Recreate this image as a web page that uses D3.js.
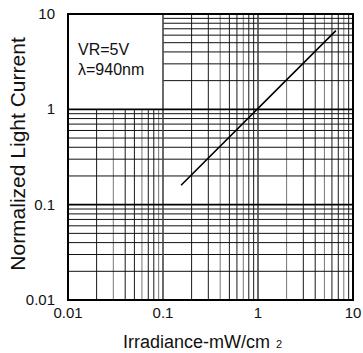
<!DOCTYPE html>
<html lang="en">
<head>
    <meta charset="UTF-8">
    <title>Normalized Light Current vs Irradiance</title>
    <script src="https://d3js.org/d3.v7.min.js"></script>
    <style>
        body {
            margin: 0;
            padding: 0;
            background-color: white;
        }
        svg text {
            font-family: "Liberation Sans", Arial, sans-serif;
            fill: #111;
        }
    </style>
</head>
<body>
    <div id="chart"></div>
    <script>
        // chart values
        const xTicks = [0.01, 0.1, 1, 10];
        const yTicks = [0.01, 0.1, 1, 10];
        const tickLabels = ["0.01", "0.1", "1", "10"];
        const curveX = [0.155, 6.6];
        const curveY = [0.16, 6.7];
        const notes = ["VR=5V", "\u03bb=940nm"];

        const width = 363, height = 353;
        const margin = {left: 68, right: 10, top: 14, bottom: 53};

        const svg = d3.select("#chart")
            .append("svg")
            .attr("width", width)
            .attr("height", height);

        const x = d3.scaleLog()
            .domain([0.01, 10])
            .range([margin.left, width - margin.right]);
        const y = d3.scaleLog()
            .domain([0.01, 10])
            .range([height - margin.bottom, margin.top]);

        // minor values inside every decade
        const minors = [];
        [0.01, 0.1, 1].forEach(d => {
            for (let k = 2; k <= 9; k++) minors.push(d * k);
        });

        const grid = svg.append("g");

        // vertical minor lines, cut short under the note box in the top-left decade
        grid.selectAll("line.vmin")
            .data(minors)
            .join("line")
            .attr("x1", d => x(d))
            .attr("x2", d => x(d))
            .attr("y1", d => d < 0.1 ? y(1) : y(10))
            .attr("y2", y(0.01))
            .attr("stroke", (d, i) => i % 3 === 1 ? "#777" : "#1a1a1a")
            .attr("stroke-width", 1);

        // horizontal minor lines
        grid.selectAll("line.hmin")
            .data(minors)
            .join("line")
            .attr("y1", d => y(d))
            .attr("y2", d => y(d))
            .attr("x1", d => d > 1 ? x(0.1) : x(0.01))
            .attr("x2", x(10))
            .attr("stroke", "#111")
            .attr("stroke-width", 1);

        // decade lines
        grid.selectAll("line.vmaj")
            .data(xTicks.slice(1, -1))
            .join("line")
            .attr("x1", d => x(d))
            .attr("x2", d => x(d))
            .attr("y1", y(10))
            .attr("y2", y(0.01))
            .attr("stroke", "#444")
            .attr("stroke-width", 1.6);

        grid.selectAll("line.hmaj")
            .data(yTicks.slice(1, -1))
            .join("line")
            .attr("y1", d => y(d))
            .attr("y2", d => y(d))
            .attr("x1", x(0.01))
            .attr("x2", x(10))
            .attr("stroke", "#000")
            .attr("stroke-width", 1.6);

        // frame
        svg.append("rect")
            .attr("x", x(0.01))
            .attr("y", y(10))
            .attr("width", x(10) - x(0.01))
            .attr("height", y(0.01) - y(10))
            .attr("fill", "none")
            .attr("stroke", "#000")
            .attr("stroke-width", 2);

        // response line
        const line = d3.line()
            .x(d => x(d[0]))
            .y(d => y(d[1]));

        svg.append("path")
            .datum(d3.zip(curveX, curveY))
            .attr("d", line)
            .attr("fill", "none")
            .attr("stroke", "#000")
            .attr("stroke-width", 1.6);

        // notes in the box
        svg.selectAll("text.note")
            .data(notes)
            .join("text")
            .attr("x", x(0.01) + 10)
            .attr("y", (d, i) => 55 + i * 20)
            .style("font-size", "16px")
            .text(d => d);

        // tick labels
        svg.selectAll("text.ylab")
            .data(yTicks)
            .join("text")
            .attr("x", margin.left - 13)
            .attr("y", d => y(d) + 5)
            .attr("text-anchor", "end")
            .style("font-size", "15px")
            .text((d, i) => tickLabels[i]);

        svg.selectAll("text.xlab")
            .data(xTicks)
            .join("text")
            .attr("x", d => x(d))
            .attr("y", height - margin.bottom + 18)
            .attr("text-anchor", "middle")
            .style("font-size", "15px")
            .text((d, i) => tickLabels[i]);

        // axis titles
        const xt = svg.append("text")
            .attr("x", 123)
            .attr("y", 348)
            .style("font-size", "18px");
        xt.append("tspan").text("Irradiance-mW/cm");
        xt.append("tspan")
            .attr("dx", 6)
            .style("font-size", "11px")
            .text("2");

        svg.append("text")
            .attr("transform", `translate(25,${154}) rotate(-90)`)
            .attr("text-anchor", "middle")
            .style("font-size", "21px")
            .text("Normalized Light Current");
    </script>
</body>
</html>
